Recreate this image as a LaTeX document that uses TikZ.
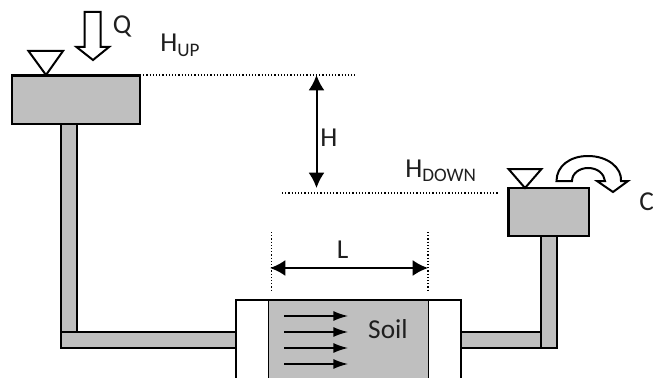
\documentclass[tikz,border=0pt]{standalone}
\usepackage{fontspec}
\setmainfont{Carlito}
\usetikzlibrary{arrows.meta}
\definecolor{fillgray}{HTML}{BFBFBF}
\tikzset{
  x=0.75pt,y=-0.75pt,
  thick line/.style={draw=black,line width=1.6pt},
  thin line/.style={draw=black,line width=1.1pt},
  gray part/.style={thick line,fill=fillgray},
  dotted line/.style={draw=black,line width=0.9pt,dash pattern=on 0.9pt off 1.5pt},
  big head/.style={line width=1.5pt,draw=black,{Latex[length=11.5pt,width=12pt]}-{Latex[length=11.5pt,width=12pt]}},
  flow/.style={line width=1pt,draw=black,-{Latex[length=11pt,width=7.5pt]}},
  label/.style={inner sep=0pt,font=\fontsize{20.5pt}{23pt}\selectfont,text=black!88},
  sublabel/.style={label,anchor=base west},
  hollow/.style={line width=1.5pt,draw=black,fill=white,line join=miter},
}
\begin{document}
\begin{tikzpicture}
\useasboundingbox (0,0) rectangle (653,378);
\clip (0,0) rectangle (653,378);
% pipes
\draw[gray part] (60.7,124) rectangle (76.7,332);
\draw[gray part] (60.7,332) rectangle (237,348);
\draw[gray part] (460,332) rectangle (541,348);
\draw[gray part] (541,236) rectangle (557,348);
% soil cell
\draw[thick line,fill=white] (236,384) -- (236,300) -- (461,300) -- (461,384);
\draw[thin line,fill=fillgray] (268.5,384) -- (268.5,300) -- (428.7,300) -- (428.7,384);
\draw[thick line] (236,300) -- (461,300);
% tanks
\draw[gray part] (12,75.5) rectangle (140,124);
\draw[gray part] (508.5,188) rectangle (589,236);
% level triangles
\coordinate (upapex) at (46,75);
\coordinate (downapex) at (525,188);
\draw[hollow] (28.5,51) -- (63,51) -- (upapex) -- cycle;
\draw[hollow] (508.5,169) -- (541.5,169) -- (downapex) -- cycle;
% inflow arrow
\draw[hollow] (84.5,12) -- (100.5,12) -- (100.5,47) -- (109,47) -- (93,60) -- (76.5,47) -- (84.5,47) -- cycle;
% outflow curved arrow
\draw[hollow] (556.5,181) .. controls (556.5,166) and (570,156) .. (588,156)
  .. controls (608,156) and (622,168) .. (621,181)
  -- (628,181) -- (613,192) -- (597,181) -- (605,181)
  .. controls (604,174) and (598,168) .. (588,168)
  .. controls (580,168) and (572,173) .. (572,181) -- cycle;
% levels
\coordinate (hupL) at (140,75);
\coordinate (hupR) at (355,75);
\coordinate (hdnL) at (282,193);
\coordinate (hdnR) at (498,193);
\draw[dotted line] (hupL) -- (hupR);
\draw[dotted line] (hdnL) -- (hdnR);
\coordinate (htop) at (316.5,75);
\coordinate (hbot) at (316.5,188);
\draw[big head] (htop) -- (hbot);
% L dimension
\coordinate (lL) at (270,268);
\coordinate (lR) at (428,268);
\draw[dotted line] (271.5,232) -- (271.5,291);
\draw[dotted line] (428,232) -- (428,291);
\draw[big head] (lL) -- (lR);
% flow arrows
\foreach \yy/\nm in {316/a,332/b,348/c,364/d}{
  \coordinate (f\nm s) at (284,\yy);
  \coordinate (f\nm e) at (348,\yy);
  \draw[flow] (f\nm s) -- (f\nm e);
}
% labels
\node[label] (qtop) at (122,26) {Q};
\node[sublabel] (hup) at (160,52) {H\textsubscript{UP}};
\node[label] (hlab) at (329,138) {H};
\node[sublabel] (hdown) at (405,177) {H\textsubscript{DOWN}};
\node[label,anchor=west] (qout) at (639,202) {C};
\node[label] (llab) at (342.5,250) {L};
\node[label] (soil) at (388,329) {Soil};
\end{tikzpicture}
\end{document}
